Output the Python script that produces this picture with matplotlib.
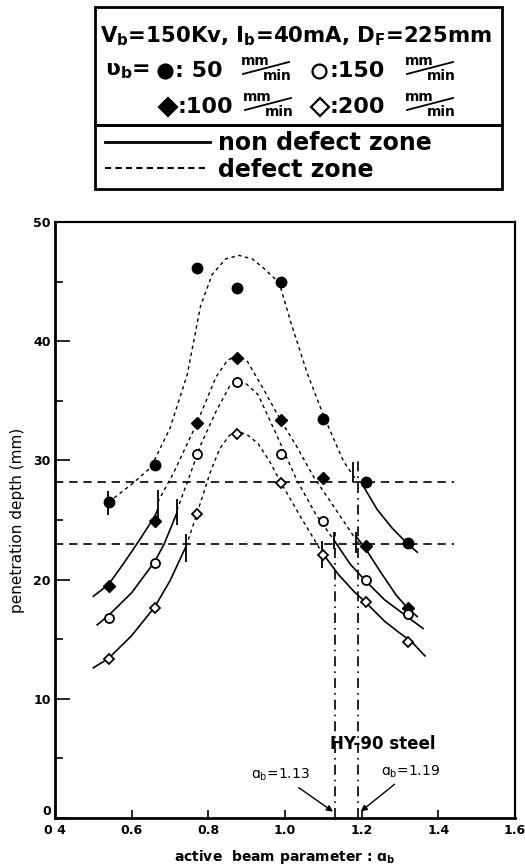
import matplotlib
matplotlib.use("Agg")
import matplotlib.pyplot as plt
from matplotlib.lines import Line2D
from matplotlib.patches import Rectangle

plt.rcParams['font.family'] = ['DejaVu Sans']
plt.rcParams['mathtext.default'] = 'regular'

# measured points (beam speed 50/100/150/200 mm/min)
beam_param = [0.54, 0.66, 0.77, 0.875, 0.99, 1.10, 1.21, 1.32]
depth_50 = [26.5, 29.6, 46.1, 44.5, 45.0, 33.5, 28.2, 23.1]
depth_100 = [19.5, 24.9, 33.1, 38.6, 33.4, 28.5, 22.8, 17.6]
depth_150 = [16.8, 21.4, 30.5, 36.6, 30.5, 24.9, 20.0, 17.1]
depth_200 = [13.3, 17.6, 25.5, 32.2, 28.1, 22.1, 18.1, 14.8]

# fitted curves: defect zone (dotted) and non defect zone (solid)
c50_def_x = [0.54, 0.60, 0.65, 0.70, 0.745, 0.78, 0.81, 0.845, 0.88, 0.915, 0.945, 0.985, 1.015, 1.057, 1.10, 1.153, 1.185]
c50_def_y = [26.5, 28.0, 29.4, 32.7, 37.2, 43.0, 45.6, 46.9, 47.2, 46.9, 46.1, 44.9, 41.6, 37.4, 33.8, 29.9, 28.4]
c50_ok_x = [1.205, 1.24, 1.28, 1.32, 1.345]
c50_ok_y = [27.8, 25.9, 24.3, 23.0, 22.3]

c100_ok1_x = [0.50, 0.54, 0.58, 0.62, 0.66, 0.668]
c100_ok1_y = [18.6, 19.6, 21.4, 23.3, 25.3, 25.9]
c100_def_x = [0.668, 0.71, 0.77, 0.82, 0.85, 0.875, 0.90, 0.94, 0.99, 1.03, 1.075, 1.13, 1.18]
c100_def_y = [26.5, 29.0, 33.1, 37.0, 38.4, 38.8, 38.4, 36.2, 33.3, 31.2, 28.6, 26.0, 23.6]
c100_ok2_x = [1.186, 1.21, 1.25, 1.29, 1.32, 1.345]
c100_ok2_y = [23.6, 22.6, 20.6, 18.7, 17.6, 16.9]

c150_ok1_x = [0.51, 0.54, 0.60, 0.66, 0.685, 0.718]
c150_ok1_y = [16.2, 17.0, 18.9, 21.5, 23.0, 25.6]
c150_def_x = [0.718, 0.75, 0.78, 0.82, 0.855, 0.875, 0.90, 0.93, 0.98, 1.03, 1.08, 1.128]
c150_def_y = [25.8, 28.6, 31.3, 34.1, 36.2, 36.6, 36.4, 35.5, 32.0, 28.4, 25.5, 23.3]
c150_ok2_x = [1.128, 1.17, 1.21, 1.26, 1.31, 1.36]
c150_ok2_y = [23.3, 21.3, 19.9, 18.3, 17.1, 15.9]

c200_ok1_x = [0.50, 0.54, 0.60, 0.66, 0.70, 0.742]
c200_ok1_y = [12.6, 13.4, 15.3, 17.7, 19.9, 22.8]
c200_def_x = [0.742, 0.77, 0.805, 0.83, 0.855, 0.875, 0.90, 0.93, 0.96, 0.99, 1.04, 1.096]
c200_def_y = [22.8, 25.5, 29.0, 31.0, 32.1, 32.4, 32.2, 31.4, 29.9, 28.1, 25.3, 22.3]
c200_ok2_x = [1.096, 1.14, 1.18, 1.21, 1.26, 1.30, 1.33, 1.365]
c200_ok2_y = [22.3, 20.4, 19.0, 18.1, 16.5, 15.5, 14.8, 13.6]

# zone boundary marks on the curves
mark_x = [0.537, 0.668, 0.718, 0.742, 1.096, 1.128, 1.186, 1.178]
mark_lo = [25.4, 25.0, 24.6, 21.5, 21.0, 22.6, 22.2, 28.2]
mark_hi = [27.4, 27.5, 26.8, 23.8, 23.2, 24.0, 24.0, 29.9]

limit_depths = [28.2, 23.0]
limit_params = [1.13, 1.19]
limit_tops = [24.0, 30.0]

xticks = [0.4, 0.6, 0.8, 1.0, 1.2, 1.4, 1.6]
xtick_labels = ['0 4', '0.6', '0.8', '1.0', '1.2', '1.4', '1.6']
yticks = [0, 10, 20, 30, 40, 50]

W, H = 525, 864
fig = plt.figure(figsize=(W / 100, H / 100), dpi=100)
ax = fig.add_axes([55 / W, 1 - 818 / H, 460 / W, 596 / H])


def fx(px):
    return px / W


def fy(py):
    return 1 - py / H


dot = (0, (2.5, 2.5))
for xs, ys in [(c50_def_x, c50_def_y), (c100_def_x, c100_def_y),
               (c150_def_x, c150_def_y), (c200_def_x, c200_def_y)]:
    ax.plot(xs, ys, color='black', lw=1.0, ls=dot)
for xs, ys in [(c50_ok_x, c50_ok_y), (c100_ok1_x, c100_ok1_y), (c100_ok2_x, c100_ok2_y),
               (c150_ok1_x, c150_ok1_y), (c150_ok2_x, c150_ok2_y),
               (c200_ok1_x, c200_ok1_y), (c200_ok2_x, c200_ok2_y)]:
    ax.plot(xs, ys, color='black', lw=1.2, ls='-')

ax.vlines(mark_x, mark_lo, mark_hi, color='black', lw=1.3)

for d in limit_depths:
    ax.plot([0.4, 1.44], [d, d], color='black', lw=1.2, ls=(0, (5, 3.5)))
for p, t in zip(limit_params, limit_tops):
    ax.plot([p, p], [0, t], color='black', lw=1.2, ls=(0, (6, 3, 1, 3)))

ax.plot(beam_param, depth_50, 'o', ms=7.5, color='black', zorder=5)
ax.plot(beam_param, depth_100, 'D', ms=6.5, color='black', zorder=5)
ax.plot(beam_param, depth_150, 'o', ms=6.5, mfc='white', mec='black', mew=1.3, zorder=5)
ax.plot(beam_param, depth_200, 'D', ms=5.5, mfc='white', mec='black', mew=1.3, zorder=5)

ax.text(1.255, 6.2, 'HY-90 steel', fontsize=12, fontweight='bold', ha='center', va='center')
ax.annotate('ɑ$_b$=1.13', xy=(1.131, 0.4), xytext=(1.066, 3.6), fontsize=10, ha='right', va='center',
            arrowprops=dict(arrowstyle='-|>', color='black', lw=1.0, mutation_scale=9))
ax.annotate('ɑ$_b$=1.19', xy=(1.192, 0.4), xytext=(1.25, 3.9), fontsize=10, ha='left', va='center',
            arrowprops=dict(arrowstyle='-|>', color='black', lw=1.0, mutation_scale=9))

ax.set_xlim(0.4, 1.6)
ax.set_ylim(0, 50)
ax.set_xticks(xticks)
ax.set_xticklabels(xtick_labels, fontweight='bold', fontsize=9)
ax.set_yticks(yticks)
ax.set_yticks([5, 15, 25, 35, 45], minor=True)
ax.set_yticklabels([str(v) for v in yticks], fontweight='bold', fontsize=9)
ax.get_yticklabels()[0].set_va('bottom')
ax.tick_params(axis='x', direction='in', length=6, width=1.2, pad=4)
ax.tick_params(axis='y', direction='in', length=11, width=1.2, pad=3)
ax.tick_params(axis='y', which='minor', direction='in', length=6, width=1.2)
for s in ['left', 'bottom']:
    ax.spines[s].set_linewidth(2.0)
for s in ['top', 'right']:
    ax.spines[s].set_linewidth(1.6)
ax.set_ylabel('penetration depth (mm)', fontsize=11)
ax.yaxis.set_label_coords(-0.065, 0.5)
ax.set_xlabel('active  beam parameter : ɑ$_b$', fontsize=10, fontweight='bold', labelpad=8)

# legend box
fig.add_artist(Rectangle((fx(95), fy(125)), (502 - 95) / W, (125 - 7) / H,
                         transform=fig.transFigure, fill=False, lw=2, color='black'))
fig.add_artist(Rectangle((fx(95), fy(189)), (502 - 95) / W, (189 - 125) / H,
                         transform=fig.transFigure, fill=False, lw=2, color='black'))

fig.text(fx(296), fy(36), 'V$_b$=150Kv, I$_b$=40mA, D$_F$=225mm', fontsize=15.3, fontweight='bold',
         ha='center', va='center')
fig.text(fx(150), fy(71), 'ʋ$_b$=', fontsize=16, fontweight='bold', ha='right', va='center')


def speed_entry(px, py, marker, filled, label):
    face = 'black' if filled else 'white'
    size = 10 if marker == 'o' else 9
    fig.add_artist(Line2D([fx(px)], [fy(py)], marker=marker, ms=size, mfc=face, mec='black',
                          mew=1.6, transform=fig.transFigure))
    fig.text(fx(px + 10), fy(py), label, fontsize=16, fontweight='bold', ha='left', va='center')


def per_min(px, py):
    fig.text(fx(px), fy(py - 9), 'mm', fontsize=10, fontweight='bold', ha='left', va='center')
    fig.text(fx(px + 22), fy(py + 6), 'min', fontsize=10, fontweight='bold', ha='left', va='center')
    fig.add_artist(Line2D([fx(px + 2), fx(px + 48)], [fy(py + 4), fy(py - 8)], color='black', lw=1.3,
                          transform=fig.transFigure))


speed_entry(165, 71, 'o', True, ': 50')
per_min(241, 70)
speed_entry(319, 71, 'o', False, ':150')
per_min(405, 70)
speed_entry(168, 107, 'D', True, ':100')
per_min(243, 106)
speed_entry(320, 107, 'D', False, ':200')
per_min(405, 106)

fig.add_artist(Line2D([fx(105), fx(210)], [fy(142), fy(142)], color='black', lw=2,
                      transform=fig.transFigure))
fig.text(fx(218), fy(143), 'non defect zone', fontsize=17, fontweight='bold', ha='left', va='center')
fig.add_artist(Line2D([fx(105), fx(208)], [fy(168), fy(168)], color='black', lw=1.5, ls=(0, (3, 2)),
                      transform=fig.transFigure))
fig.text(fx(218), fy(170), 'defect zone', fontsize=17, fontweight='bold', ha='left', va='center')

fig.savefig('out.png', dpi=100)
